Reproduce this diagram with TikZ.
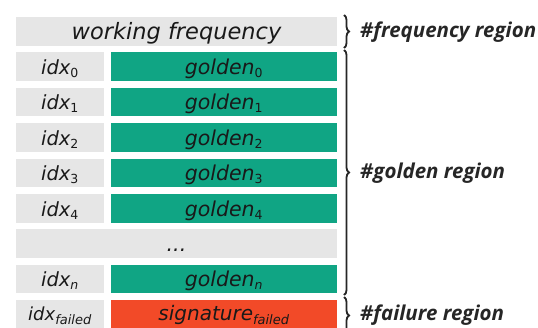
\documentclass[tikz,border=0pt]{standalone}
\usepackage{fontspec}
\newfontfamily\boxfont{DejaVu Sans}
\newfontfamily\labfont{Open Sans}
\usetikzlibrary{decorations.pathreplacing}
\definecolor{cgray}{HTML}{E6E6E6}
\definecolor{cgreen}{HTML}{10A584}
\definecolor{cred}{HTML}{F24A28}
\newcommand{\sbs}[1]{\textsubscript{\fontsize{12.5}{12.5}\selectfont #1}}
\newcommand{\fsz}[1]{\fontsize{#1}{#1}\selectfont}
\tikzset{
  cell/.style={draw=none, anchor=north west, minimum height=28.5pt, inner sep=0pt, outer sep=0pt,
    text height=16.5pt, text depth=1pt,
    font=\boxfont\itshape\fsz{20.5}, text=black!90},
  idxcell/.style={cell, fill=cgray, minimum width=88pt, font=\boxfont\itshape\fsz{19.5}},
  goldcell/.style={cell, fill=cgreen, minimum width=226pt},
  redcell/.style={cell, fill=cred, minimum width=226pt, font=\boxfont\itshape\fsz{20}},
  widecell/.style={cell, fill=cgray, minimum width=321pt},
  failrow/.style={text height=14pt},
  bracestyle/.style={decorate, decoration={brace, amplitude=5pt}, line width=1.8pt, black!85},
  region/.style={anchor=west, font=\labfont\bfseries\itshape\fsz{20.5}, text=black!85, inner sep=0pt}
}
\begin{document}
\begin{tikzpicture}[x=1pt,y=-1pt]
\useasboundingbox (0,0) rectangle (538,327);
\pgfmathsetmacro{\p}{35.4}
\node[widecell, font=\boxfont\itshape\fsz{22.5}] (freq) at (16,17) {working frequency};
\foreach \i/\lab in {0/0,1/1,2/2,3/3,4/4}{
  \node[idxcell] (idx\i) at (16,{17+\p*(\i+1)}) {idx\sbs{\upshape\lab}};
  \node[goldcell] (gold\i) at (111,{17+\p*(\i+1)}) {golden\sbs{\upshape\lab}};
}
\node[widecell] (dots) at (16,{17+\p*6}) {...};
\node[idxcell] (idxn) at (16,{17+\p*7}) {idx\sbs{n}};
\node[goldcell] (goldn) at (111,{17+\p*7}) {golden\sbs{n}};
\node[idxcell, failrow, font=\boxfont\itshape\fsz{18}] (idxf) at (16,{17+\p*8}) {idx\textsubscript{\fsz{13}failed}};
\node[redcell, failrow] (sigf) at (111,{17+\p*8}) {signature\textsubscript{\fsz{13}failed}};
\coordinate (fa) at (344,15);
\coordinate (fb) at (344,48);
\coordinate (ga) at (344,50);
\coordinate (gb) at (344,295);
\coordinate (ra) at (344,297);
\coordinate (rb) at (344,334);
\draw[bracestyle] (fa) -- (fb);
\draw[bracestyle] (ga) -- (gb);
\draw[bracestyle] (ra) -- (rb);
\node[region] (lf) at (360,32) {\#frequency region};
\node[region] (lg) at (360,173) {\#golden region};
\node[region] (lr) at (360,315) {\#failure region};
\end{tikzpicture}
\end{document}
